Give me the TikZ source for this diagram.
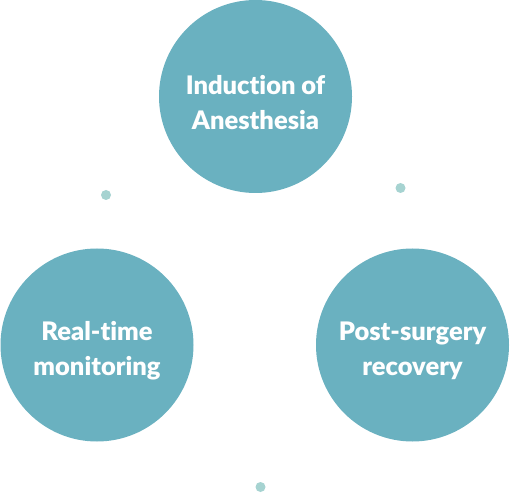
\documentclass[tikz,border=0pt]{standalone}
\usepackage{fontspec}
\setmainfont{Lato}[BoldFont={Lato Black},Ligatures=NoCommon]
\usepackage{tikz}
\usetikzlibrary{positioning}
\definecolor{stepteal}{HTML}{6AB1C0}
\definecolor{dotteal}{HTML}{A6D3D1}
\tikzstyle{stage}=[circle,fill=stepteal,draw=none,minimum size=193pt,inner sep=0pt]
\tikzstyle{stagetext}=[text=white,font=\fontsize{25.5}{35}\selectfont\bfseries,align=center]
\tikzstyle{tinydot}=[circle,fill=dotteal,draw=none,minimum size=10pt,inner sep=0pt]

\begin{document}
\begin{tikzpicture}[x=1pt,y=1pt]
    % canvas
    \useasboundingbox (0,0) rectangle (510,503);

    % the three stages
    \foreach \pos/\name in {{(255.5,406.5)/S1}, {(97,158)/S2}, {(412.5,158)/S3}}
        \node[stage] (\name) at \pos {};

    \foreach \name/\label in {S1/Induction of\\Anesthesia, S2/Real-time\\monitoring, S3/Post-surgery\\recovery}
        \node[stagetext, yshift=-6pt] (\name-text) at (\name) {\label};

    % small dots in between
    \foreach \pos/\name in {{(106,308)/D1}, {(400.5,315)/D2}, {(260.5,16)/D3}}
        \node[tinydot] (\name) at \pos {};
\end{tikzpicture}
\end{document}
